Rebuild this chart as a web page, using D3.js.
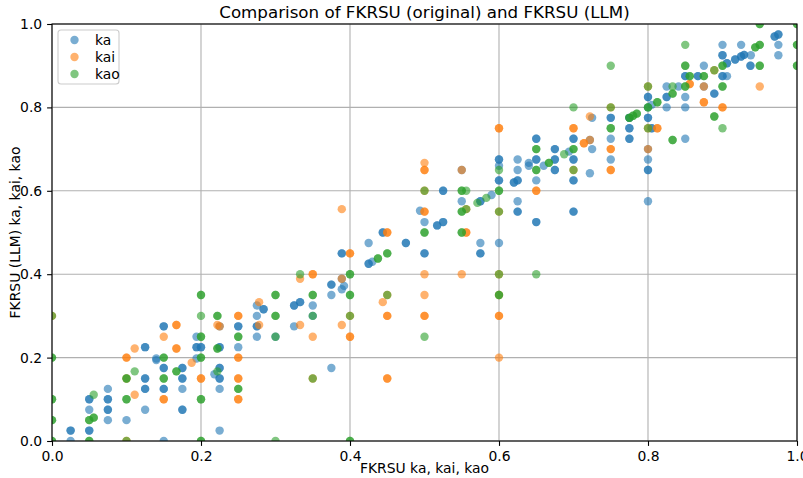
<!DOCTYPE html>
<html><head><meta charset="utf-8">
<script src="https://cdn.jsdelivr.net/npm/d3@7"></script>
<style>body{margin:0;background:#fff;} text{font-family:"DejaVu Sans",sans-serif;}</style>
</head><body><svg id="c" width="803" height="478"></svg>
<script>
const title = "Comparison of FKRSU (original) and FKRSU (LLM)";
const xLabel = "FKRSU ka, kai, kao";
const yLabel = "FKRSU (LLM) ka, kai, kao";
const seriesNames = ["ka", "kai", "kao"];
const seriesColors = ["#1f77b4", "#ff7f0e", "#2ca02c"];
const tickValues = [0, 0.2, 0.4, 0.6, 0.8, 1.0];

const ka = [
[0.025,0.025],[0.025,0.025],[0.025,0],[0.05,0.1],[0.05,0.1],[0.05,0.075],[0.05,0.025],[0.05,0.025],
[0.075,0.125],[0.075,0.1],[0.075,0.1],[0.075,0.075],[0.075,0.075],[0.075,0.05],[0.1,0.05],
[0.125,0.15],[0.125,0.15],[0.125,0.125],[0.125,0.125],[0.125,0.075],[0.14,0.194],[0.15,0.175],[0.15,0.175],
[0.15,0.125],[0.15,0.125],[0.15,0],[0.175,0.175],[0.175,0.175],[0.175,0.15],[0.175,0.15],[0.175,0.125],
[0.175,0.075],[0.175,0.075],[0.218,0.16],[0.225,0.15],[0.225,0.15],[0.225,0.175],[0.225,0.175],[0.225,0.125],[0.225,0.025],
[0.15,0.275],[0.15,0.275],[0.125,0.225],[0.125,0.225],[0.14,0.198],[0.194,0.198],[0.194,0.25],[0.194,0.225],[0.194,0.225],
[0.2,0.225],[0.2,0.225],[0.225,0.275],[0.225,0.225],[0.225,0.225],[0.25,0.275],[0.25,0.275],[0.25,0.225],
[0.494,0.552],[0.5,0.525],[0.444,0.5],[0.444,0.5],[0.425,0.475],[0.475,0.475],[0.475,0.475],[0.389,0.45],[0.389,0.45],
[0.5,0.45],[0.5,0.45],[0.425,0.425],[0.425,0.425],[0.43,0.43],[0.392,0.372],[0.389,0.364],[0.375,0.375],[0.375,0.375],
[0.375,0.35],[0.325,0.325],[0.325,0.325],[0.333,0.333],[0.333,0.333],[0.35,0.325],[0.275,0.325],[0.284,0.316],[0.284,0.316],
[0.275,0.3],[0.35,0.3],[0.3,0.25],[0.275,0.275],[0.275,0.275],[0.325,0.275],[0.275,0.25],[0.375,0.175],[0.389,0.389],
[0.525,0.6],[0.525,0.6],[0.55,0.575],[0.625,0.575],[0.575,0.575],[0.575,0.575],[0.59,0.59],[0.625,0.55],[0.625,0.55],
[0.7,0.55],[0.7,0.55],[0.517,0.517],[0.517,0.517],[0.525,0.525],[0.525,0.525],[0.65,0.525],[0.65,0.525],
[0.575,0.475],[0.6,0.475],[0.575,0.45],[0.575,0.45],
[0.725,0.775],[0.75,0.775],[0.75,0.775],[0.65,0.725],[0.65,0.725],[0.7,0.725],[0.7,0.725],[0.722,0.722],[0.75,0.725],
[0.675,0.7],[0.675,0.7],[0.725,0.7],[0.694,0.694],[0.66,0.66],[0.6,0.675],[0.6,0.675],[0.625,0.675],[0.64,0.667],[0.64,0.66],
[0.65,0.675],[0.65,0.675],[0.675,0.675],[0.675,0.675],[0.7,0.675],[0.7,0.675],[0.75,0.675],[0.55,0.65],[0.625,0.65],
[0.675,0.65],[0.675,0.65],[0.6,0.625],[0.6,0.625],[0.62,0.62],[0.62,0.62],[0.625,0.625],[0.625,0.625],[0.65,0.625],
[0.7,0.625],[0.7,0.625],[0.722,0.642],[0.6,0.66],
[0.97,0.97],[0.97,0.97],[0.975,0.975],[0.975,0.975],[0.975,0.95],[0.9,0.95],[0.925,0.95],[0.9,0.925],[0.9,0.925],
[0.917,0.915],[0.917,0.915],[0.925,0.922],[0.925,0.922],[0.929,0.926],[0.929,0.926],[0.938,0.925],[0.9375,0.9],[0.9375,0.9],
[0.975,0.925],[0.875,0.9],[0.906,0.906],[0.906,0.906],[0.85,0.875],[0.85,0.875],[0.867,0.875],[0.867,0.875],
[0.9,0.875],[0.9,0.875],[0.906,0.875],[0.825,0.85],[0.841,0.85],[0.875,0.85],[0.825,0.825],[0.825,0.825],
[0.8,0.825],[0.8,0.825],[0.85,0.825],[0.889,0.833],[0.889,0.833],[0.805,0.806],[0.8,0.8],[0.825,0.8],[0.85,0.8],
[0.775,0.775],[0.775,0.775],[0.775,0.75],[0.775,0.75],[0.8,0.775],[0.8,0.775],[0.805,0.75],[0.805,0.75],
[0.775,0.725],[0.775,0.725],[0.85,0.725],[0.8,0.7],[0.8,0.675],[0.8,0.65],[0.8,0.65],[0.8,0.575]
];

const kai = [
[0.1,0.15],[0.111,0.111],[0.1,0],[0.15,0.1],[0.15,0.1],[0.1875,0.1875],[0.2,0.15],[0.2,0.15],[0.25,0.15],[0.25,0.15],
[0,0.3],[0.167,0.278],[0.167,0.278],[0.15,0.25],[0.111,0.222],[0.1,0.2],[0.1,0.2],[0.167,0.222],[0.167,0.222],
[0.222,0.278],[0.225,0.275],[0.25,0.3],[0.25,0.3],[0.25,0.2],[0.25,0.2],
[0.5,0.6],[0.389,0.556],[0.5,0.55],[0.5,0.55],[0.45,0.5],[0.45,0.5],[0.4,0.45],[0.4,0.45],[0.333,0.389],
[0.35,0.4],[0.35,0.4],[0.5,0.4],[0.389,0.389],[0.45,0.35],[0.444,0.333],[0.5,0.35],[0.278,0.333],[0.4,0.3],
[0.45,0.3],[0.45,0.3],[0.5,0.3],[0.5,0.3],[0.278,0.278],[0.333,0.278],[0.389,0.278],[0.35,0.25],[0.4,0.25],[0.4,0.25],
[0.25,0.1],[0.25,0.1],[0.35,0.15],[0.45,0.15],[0.45,0.15],
[0.65,0.6],[0.65,0.6],[0.556,0.556],[0.6,0.55],[0.556,0.5],[0.556,0.5],[0.55,0.4],[0.6,0.4],[0.6,0.35],
[0.6,0.3],[0.6,0.3],[0.6,0.2],
[0.75,0.8],[0.722,0.778],[0.6,0.75],[0.6,0.75],[0.7,0.75],[0.7,0.75],[0.714,0.714],[0.714,0.714],[0.722,0.722],
[0.75,0.7],[0.75,0.7],[0.5,0.667],[0.5,0.65],[0.5,0.65],[0.55,0.65],[0.7,0.65],[0.75,0.65],[0.75,0.65],
[0.8,0.85],[0.856,0.856],[0.856,0.856],[0.875,0.85],[0.95,0.85],[0.875,0.8125],[0.875,0.8125],[0.9,0.8],[0.9,0.8],
[0.8,0.75],[0.8125,0.75],[0.8125,0.75],[0.8,0.7],[0.889,0.889]
];

const kao = [
[0,0.1],[0,0.1],[0,0.05],[0,0.05],[0,0],[0,0],[0.05,0.05],[0.05,0.05],[0.056,0.056],[0.056,0.056],[0.056,0.111],
[0.05,0],[0.05,0],[0.1,0.15],[0.1,0.15],[0.111,0.167],[0.1,0.1],[0.1,0.1],[0.1,0],[0.15,0.15],[0.15,0.15],
[0.167,0.167],[0.167,0.167],[0.2,0.1],[0.2,0.1],[0.2,0],[0.2,0],[0.222,0.167],[0.25,0.125],[0.25,0.125],
[0,0.3],[0,0.2],[0,0.2],[0.15,0.2],[0.15,0.2],[0.2,0.35],[0.2,0.35],[0.2,0.3],[0.2,0.25],[0.2,0.25],[0.2,0.2],[0.2,0.2],
[0.222,0.3],[0.222,0.3],[0.222,0.222],[0.222,0.222],[0.25,0.25],[0.25,0.25],
[0.5,0.6],[0.5,0.5],[0.5,0.5],[0.45,0.45],[0.45,0.45],[0.4375,0.4375],[0.4375,0.4375],[0.333,0.4],[0.4,0.4],[0.4,0.4],
[0.3,0.35],[0.3,0.35],[0.35,0.35],[0.35,0.35],[0.4,0.35],[0.4,0.35],[0.45,0.35],[0.3,0.3],[0.3,0.3],[0.35,0.3],[0.4,0.3],
[0.3,0.25],[0.5,0.25],[0.35,0.15],[0.3,0],[0.4,0],[0.4,0],
[0.55,0.6],[0.55,0.6],[0.556,0.6],[0.6,0.6],[0.6,0.6],[0.571,0.571],[0.583,0.583],[0.55,0.55],[0.55,0.55],[0.556,0.556],
[0.6,0.55],[0.55,0.5],[0.55,0.5],[0.6,0.4],[0.65,0.4],[0.6,0.35],[0.6,0.35],
[0.75,0.9],[0.7,0.8],[0.75,0.8],[0.75,0.75],[0.75,0.75],[0.65,0.7],[0.65,0.7],[0.7,0.7],[0.7,0.7],[0.6875,0.6875],
[0.667,0.667],[0.667,0.667],[0.6,0.65],[0.65,0.65],[0.65,0.65],[0.7,0.65],
[0.95,1],[0.95,1],[1,1],[1,1],[1,0.95],[1,0.95],[0.85,0.95],[0.944,0.944],[0.944,0.944],[0.95,0.95],[0.95,0.95],
[0.95,0.9],[0.95,0.9],[1,0.9],[1,0.9],[0.85,0.9],[0.85,0.9],[0.9,0.9],[0.9,0.9],[0.889,0.889],[0.856,0.875],[0.856,0.875],
[0.875,0.875],[0.875,0.875],[0.833,0.85],[0.85,0.85],[0.85,0.85],[0.9,0.85],[0.9,0.85],[0.8,0.85],[0.833,0.833],[0.833,0.833],
[0.8125,0.8125],[0.8125,0.8125],[0.8,0.8],[0.8,0.8],[0.775,0.775],[0.775,0.775],[0.78,0.78],[0.78,0.78],[0.785,0.785],[0.785,0.785],
[0.889,0.778],[0.889,0.778],[0.8,0.75],[0.9,0.75],[0.833,0.722],[0.833,0.722]
];

const seriesData = [ka, kai, kao];

const svg = d3.select("#c");
const m = {left: 52, right: 6, top: 24, bottom: 37};
const W = 803, H = 478;
const x = d3.scaleLinear().domain([0, 1]).range([m.left, W - m.right]);
const y = d3.scaleLinear().domain([0, 1]).range([H - m.bottom, m.top]);

// grid
const grid = svg.append("g");
grid.selectAll(".gx").data(tickValues).join("line")
  .attr("x1", d => x(d)).attr("x2", d => x(d)).attr("y1", y(0)).attr("y2", y(1))
  .attr("stroke", "#b0b0b0").attr("stroke-width", 1.1);
grid.selectAll(".gy").data(tickValues).join("line")
  .attr("y1", d => y(d)).attr("y2", d => y(d)).attr("x1", x(0)).attr("x2", x(1))
  .attr("stroke", "#b0b0b0").attr("stroke-width", 1.1);

// points
const clip = svg.append("clipPath").attr("id", "clp").append("rect")
  .attr("x", x(0)).attr("y", y(1)).attr("width", x(1) - x(0)).attr("height", y(0) - y(1));
seriesData.forEach((data, i) => {
  svg.append("g").attr("clip-path", "url(#clp)").selectAll("circle").data(data).join("circle")
    .attr("cx", d => x(d[0])).attr("cy", d => y(d[1])).attr("r", 4.2)
    .attr("fill", seriesColors[i]).attr("fill-opacity", 0.6);
});

// axes
const fmt = d3.format(".1f");
const xa = svg.append("g").attr("transform", `translate(0,${y(0)})`)
  .call(d3.axisBottom(x).tickValues(tickValues).tickFormat(fmt).tickSize(4.9).tickPadding(4.9));
const ya = svg.append("g").attr("transform", `translate(${x(0)},0)`)
  .call(d3.axisLeft(y).tickValues(tickValues).tickFormat(fmt).tickSize(4.9).tickPadding(4.9));
[xa, ya].forEach(a => {
  a.select(".domain").remove();
  a.selectAll("text").attr("font-size", 13.9).attr("fill", "#000").attr("font-family", "DejaVu Sans");
  a.selectAll("line").attr("stroke", "#000").attr("stroke-width", 1.1);
});
// spines
svg.append("rect").attr("x", x(0)).attr("y", y(1)).attr("width", x(1) - x(0)).attr("height", y(0) - y(1))
  .attr("fill", "none").attr("stroke", "#000").attr("stroke-width", 1.1);

// labels
svg.append("text").attr("x", (x(0) + x(1)) / 2).attr("y", 18).attr("text-anchor", "middle")
  .attr("font-size", 16.7).text(title);
svg.append("text").attr("x", (x(0) + x(1)) / 2).attr("y", 473).attr("text-anchor", "middle")
  .attr("font-size", 13.9).text(xLabel);
svg.append("text").attr("transform", `translate(20,${(y(0) + y(1)) / 2}) rotate(-90)`)
  .attr("text-anchor", "middle").attr("font-size", 13.9).text(yLabel);

// legend
const lg = svg.append("g").attr("transform", "translate(58,30)");
lg.append("rect").attr("width", 61).attr("height", 54).attr("rx", 3)
  .attr("fill", "#fff").attr("fill-opacity", 0.8).attr("stroke", "#cccccc").attr("stroke-width", 1.1);
seriesNames.forEach((n, i) => {
  lg.append("circle").attr("cx", 16.5).attr("cy", 10 + i * 17).attr("r", 4.2)
    .attr("fill", seriesColors[i]).attr("fill-opacity", 0.6);
  lg.append("text").attr("x", 37).attr("y", 15 + i * 17).attr("font-size", 13.9).text(n);
});
</script></body></html>
